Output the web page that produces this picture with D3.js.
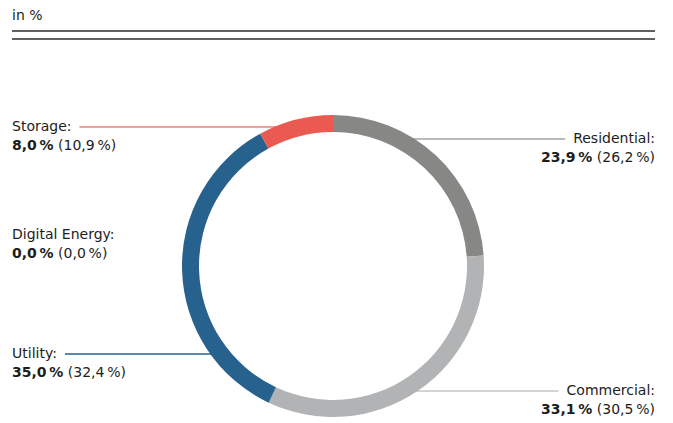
<!DOCTYPE html>
<html>
<head>
<meta charset="utf-8">
<script src="https://cdn.jsdelivr.net/npm/d3@7"></script>
<style>
  body { margin: 0; background: #fff; }
  svg text { font-family: "DejaVu Sans", sans-serif; font-size: 14px; fill: #1d1d1b; }
</style>
</head>
<body>
<div id="chart"></div>
<script>
// segments clockwise from 12 o'clock
const categories = ["Residential", "Commercial", "Utility", "Digital Energy", "Storage"];
const shares = [23.9, 33.1, 35.0, 0.0, 8.0];
const sharesPrev = [26.2, 30.5, 32.4, 0.0, 10.9];
const colors = ["#878786", "#b2b3b4", "#27618d", "#27618d", "#eb5a50"];
const lineColors = ["#a3a3a3", "#c6c6c6", "#27618d", null, "#ee8078"];

let width = 673, height = 423;
let cx = 333, cy = 266, rOuter = 151, rInner = 134;

// label layout: side, baseline y
const labelPos = {
    "Residential": { side: "right", y: 143 },
    "Commercial": { side: "right", y: 395 },
    "Utility": { side: "left", y: 358 },
    "Digital Energy": { side: "left", y: 239 },
    "Storage": { side: "left", y: 131 }
};

let fmt = v => v.toFixed(1).replace(".", ",");

let svg = d3.select("#chart").append("svg")
    .attr("width", width)
    .attr("height", height);

// header
svg.append("text").attr("x", 12).attr("y", 20).text("in %");
[31, 39].forEach(function (y) {
    svg.append("line")
        .attr("x1", 12).attr("x2", 655)
        .attr("y1", y).attr("y2", y)
        .attr("stroke", "#2b2b2b").attr("stroke-width", 1.4);
});

let data = categories.map(function (c, i) {
    return { name: c, value: shares[i], prev: sharesPrev[i], color: colors[i], lineColor: lineColors[i] };
});

let pie = d3.pie().sort(null).value(d => d.value);
let arcs = pie(data);
let arc = d3.arc().innerRadius(rInner).outerRadius(rOuter);

let gLines = svg.append("g");
let gRing = svg.append("g").attr("transform", "translate(" + cx + "," + cy + ")");
let gLabels = svg.append("g");

// labels
data.forEach(function (d) {
    let p = labelPos[d.name];
    let right = p.side === "right";
    let x = right ? 655 : 12;
    let t1 = gLabels.append("text")
        .attr("x", x).attr("y", p.y)
        .attr("text-anchor", right ? "end" : "start")
        .text(d.name + ":");
    let t2 = gLabels.append("text")
        .attr("x", x).attr("y", p.y + 19)
        .attr("text-anchor", right ? "end" : "start");
    t2.append("tspan").attr("font-weight", "bold").text(fmt(d.value) + "\u2009%");
    t2.append("tspan").text(" (" + fmt(d.prev) + "\u2009%)");

    if (!d.lineColor) return;
    let bb = t1.node().getBBox();
    let ly = p.y - 4;
    let rMid = (rInner + rOuter) / 2;
    let dx = Math.sqrt(Math.max(0, rMid * rMid - (ly - cy) * (ly - cy)));
    let ringX = right ? cx + dx : cx - dx;
    let textX = right ? bb.x - 8 : bb.x + bb.width + 8;
    gLines.append("line")
        .attr("x1", textX).attr("x2", ringX)
        .attr("y1", ly).attr("y2", ly)
        .attr("stroke", d.lineColor).attr("stroke-width", 1.3);
});

// ring
gRing.selectAll("path")
    .data(arcs.filter(a => a.data.value > 0))
    .enter().append("path")
    .attr("d", arc)
    .attr("fill", a => a.data.color);
</script>
</body>
</html>
